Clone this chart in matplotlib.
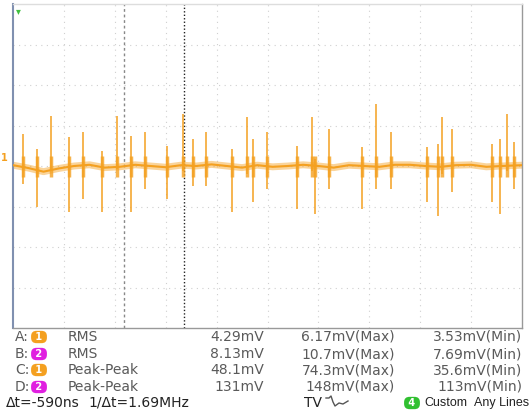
import matplotlib.pyplot as plt
from matplotlib.lines import Line2D

# spikes: time (div), peak up (div), peak down (div)
spike_t = [0.20, 0.47, 0.75, 1.10, 1.38, 1.75, 2.04, 2.32, 2.59, 3.03, 3.34,
           3.54, 3.79, 4.30, 4.60, 4.72, 4.99, 5.58, 5.87, 5.93, 6.21, 6.86,
           7.13, 7.43, 8.13, 8.35, 8.43, 8.62, 9.41, 9.57, 9.71, 9.84]
spike_hi = [0.79, 0.42, 1.23, 0.71, 0.84, 0.37, 1.23, 0.74, 0.84, 0.49, 1.28,
            0.66, 0.84, 0.42, 1.21, 0.66, 0.84, 0.49, 1.21, 0.17, 0.91, 0.47,
            1.53, 0.84, 0.47, 0.54, 1.21, 0.91, 0.54, 0.66, 1.28, 0.59]
spike_lo = [-0.44, -1.01, -0.12, -1.13, -0.81, -1.13, -0.07, -1.13, -0.57, -0.81, -0.12,
            -0.49, -0.49, -1.13, -0.20, -0.89, -0.57, -1.06, -0.12, -1.18, -0.57, -1.06,
            -0.57, -0.57, -0.89, -1.23, -0.20, -0.64, -0.89, -1.18, -0.12, -0.57]

# slow baseline wander
base_t = [0.0, 0.3, 0.6, 0.9, 1.2, 1.5, 1.8, 2.1, 2.4, 2.7, 3.0, 3.3, 3.6, 3.9,
          4.2, 4.5, 4.8, 5.1, 5.4, 5.7, 6.0, 6.3, 6.6, 6.9, 7.2, 7.5, 7.8, 8.1,
          8.4, 8.7, 9.0, 9.3, 9.6, 10.0]
base_v = [0.02, -0.05, -0.14, -0.06, 0.0, 0.03, -0.04, -0.02, 0.03, 0.0, -0.03, 0.02,
          0.0, 0.04, 0.0, -0.04, 0.02, -0.02, 0.0, 0.03, 0.0, -0.04, 0.02, 0.0,
          -0.02, 0.03, 0.03, 0.0, -0.02, 0.02, 0.03, -0.02, 0.0, 0.02]

rows = [("A:", "1", "RMS", "4.29mV", "6.17mV(Max)", "3.53mV(Min)"),
        ("B:", "2", "RMS", "8.13mV", "10.7mV(Max)", "7.69mV(Min)"),
        ("C:", "1", "Peak-Peak", "48.1mV", "74.3mV(Max)", "35.6mV(Min)"),
        ("D:", "2", "Peak-Peak", "131mV", "148mV(Max)", "113mV(Min)")]

W, H = 531, 416
orange = '#f4a020'
magenta = '#e020e0'

fig = plt.figure(figsize=(W / 100, H / 100), dpi=100)
ax = fig.add_axes([13 / W, 1 - 328 / H, 509 / W, 324 / H])
ax.set_xlim(0, 10)
ax.set_ylim(-4, 4)
ax.set_xticks([])
ax.set_yticks([])
for s in ax.spines.values():
    s.set_color('#999999')
    s.set_linewidth(1)
ax.spines['left'].set_color('#8090b0')
ax.spines['left'].set_linewidth(1.5)
ax.spines['top'].set_color('#dddddd')

# graticule
for gx in range(1, 10):
    ax.axvline(gx, color='#cfcfcf', lw=0.8, ls=(0, (1, 4)), zorder=0)
for gy in range(-3, 4):
    ax.axhline(gy, color='#cfcfcf', lw=0.8, ls=(0, (1, 4)), zorder=0)

# cursors
ax.axvline(2.18, color='#888888', lw=1, ls=(0, (2, 2)), zorder=1)
ax.axvline(3.36, color='#222222', lw=1, ls=(0, (1, 1.5)), zorder=1)

# trace
n = len(spike_t)
ax.plot(base_t, base_v, color=orange, lw=5, alpha=0.45, zorder=2)
ax.plot(base_t, base_v, color=orange, lw=1.5, zorder=3)
ax.vlines(spike_t, [-0.28] * n, [0.25] * n, color=orange, lw=2.5, alpha=0.8, zorder=3)
ax.vlines(spike_t, spike_lo, spike_hi, color=orange, lw=1.1, zorder=4)

# markers
fig.text(16 / W, 1 - 11 / H, '▾', color='#40c040', fontsize=7, va='center')
fig.text(1 / W, 1 - 158 / H, '1', color=orange, fontsize=7, va='center', fontweight='bold')


def px(x, y):
    return x / W, 1 - y / H


def badge(x, y, label, color):
    fig.text(*px(x, y), ' ' + label + ' ', color='white', fontsize=7, va='center',
             ha='center', fontweight='bold',
             bbox=dict(boxstyle='round,pad=0.12,rounding_size=0.55', fc=color, ec='none'))


# measurement table
fs = 10
txt = '#5a5a5a'
ys = [337, 354, 370, 387]
for (lab, ch, kind, v1, v2, v3), y in zip(rows, ys):
    fig.text(*px(15, y), lab, color=txt, fontsize=fs, va='center')
    badge(39, y, ch, orange if ch == '1' else magenta)
    fig.text(*px(68, y), kind, color=txt, fontsize=fs, va='center')
    fig.text(*px(264, y), v1, color=txt, fontsize=fs, va='center', ha='right')
    fig.text(*px(395, y), v2, color=txt, fontsize=fs, va='center', ha='right')
    fig.text(*px(522, y), v3, color=txt, fontsize=fs, va='center', ha='right')

# status line
yb = 403
dark = '#222222'
fig.text(*px(6, yb), 'Δt=-590ns', color=dark, fontsize=fs, va='center')
fig.text(*px(88, yb), '1/Δt=1.69MHz', color=dark, fontsize=fs, va='center')
fig.text(*px(304, yb), 'TV', color=dark, fontsize=fs, va='center')
sx = [326, 329, 331, 333, 335, 339, 343, 348]
sy = [398, 398, 396, 402, 406, 403, 404, 401]
fig.add_artist(Line2D([a / W for a in sx], [1 - b / H for b in sy],
                      color='#555555', lw=1, transform=fig.transFigure))
badge(412, yb, '4', '#30c030')
fig.text(*px(424, yb), 'Custom', color=dark, fontsize=9, va='center',
         family='Liberation Sans')
fig.text(*px(529, yb), 'Any Lines', color=dark, fontsize=9, va='center', ha='right',
         family='Liberation Sans')

fig.savefig('out.png', dpi=100)
